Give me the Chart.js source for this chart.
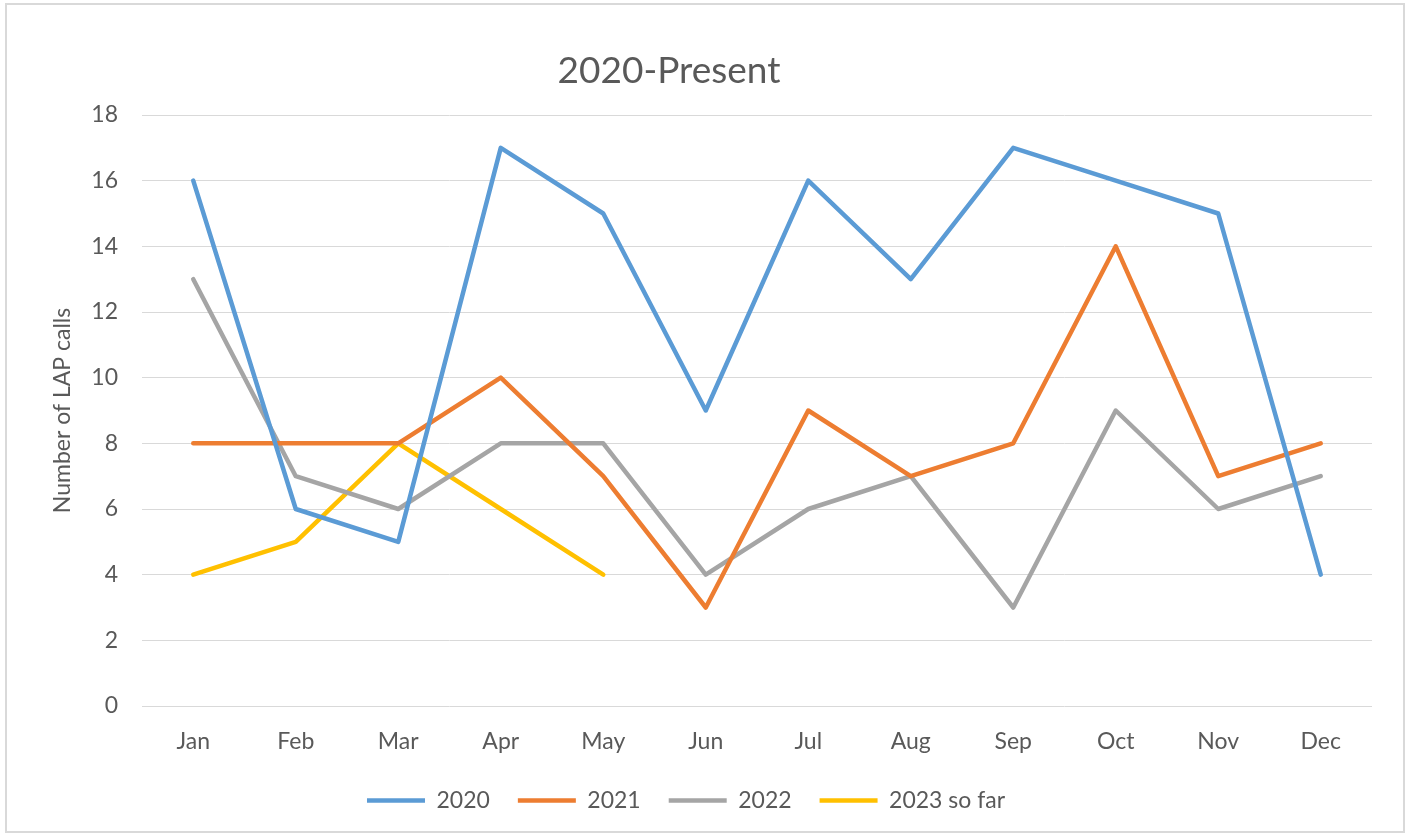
<!DOCTYPE html>
<html>
<head>
<meta charset="utf-8">
<title>2020-Present</title>
<script src="https://cdn.jsdelivr.net/npm/chart.js@4/dist/chart.umd.min.js"></script>
<style>
  html, body { margin: 0; padding: 0; background: #ffffff; }
  #wrap { position: relative; width: 1411px; height: 839px; }
  #frame {
    position: absolute; left: 5px; top: 3px; width: 1400px; height: 830px;
    border: 2px solid #d9d9d9; box-sizing: border-box; pointer-events: none;
  }
  canvas { position: absolute; left: 0; top: 0; }
</style>
</head>
<body>
<div id="wrap">
  <canvas id="chart" width="1411" height="839"></canvas>
  <div id="frame"></div>
</div>
<script>
// Monthly LAP call counts
const months = ['Jan', 'Feb', 'Mar', 'Apr', 'May', 'Jun', 'Jul', 'Aug', 'Sep', 'Oct', 'Nov', 'Dec'];
const calls2020 = [16, 6, 5, 17, 15, 9, 16, 13, 17, 16, 15, 4];
const calls2021 = [8, 8, 8, 10, 7, 3, 9, 7, 8, 14, 7, 8];
const calls2022 = [13, 7, 6, 8, 8, 4, 6, 7, 3, 9, 6, 7];
const calls2023 = [4, 5, 8, 6, 4];
const seriesNames = ['2020', '2021', '2022', '2023 so far'];
const yTicks = [0, 2, 4, 6, 8, 10, 12, 14, 16, 18];
const chartTitle = '2020-Present';
const yAxisTitle = 'Number of LAP calls';

const FONT = 'Lato, "Open Sans", sans-serif';
const TEXT = '#595959';
const colors = ['#5B9BD5', '#ED7D31', '#A5A5A5', '#FFC000'];

const makeSet = (label, data, color) => ({
  label, data,
  borderColor: color,
  backgroundColor: color,
  borderWidth: 4.5,
  borderCapStyle: 'round',
  borderJoinStyle: 'round',
  pointRadius: 0,
  pointHoverRadius: 0,
  tension: 0,
  fill: false
});

// Title drawn over the plot, slightly left of the canvas centre
const titlePlugin = {
  id: 'offsetTitle',
  afterDraw(chart) {
    const ctx = chart.ctx;
    ctx.save();
    ctx.font = '37px ' + FONT;
    ctx.fillStyle = TEXT;
    ctx.textAlign = 'center';
    ctx.textBaseline = 'middle';
    ctx.fillText(chartTitle, 669, 71);
    ctx.restore();
  }
};

new Chart(document.getElementById('chart'), {
  type: 'line',
  data: {
    labels: months,
    datasets: [
      makeSet(seriesNames[0], calls2020, colors[0]),
      makeSet(seriesNames[1], calls2021, colors[1]),
      makeSet(seriesNames[2], calls2022, colors[2]),
      makeSet(seriesNames[3], calls2023, colors[3])
    ]
  },
  options: {
    responsive: false,
    animation: false,
    events: [],
    layout: { padding: { top: 115, right: 39, left: 0, bottom: 17 } },
    plugins: {
      title: { display: false },
      tooltip: { enabled: false },
      legend: {
        position: 'bottom',
        labels: {
          font: { family: FONT, size: 23 },
          color: TEXT,
          usePointStyle: true,
          pointStyle: 'line',
          pointStyleWidth: 58,
          padding: 28
        }
      }
    },
    scales: {
      x: {
        offset: true,
        grid: { display: false, drawTicks: false },
        border: { display: false },
        ticks: { font: { family: FONT, size: 23 }, color: TEXT, padding: 22, maxRotation: 0 },
        afterFit(scale) { scale.height = 55; }
      },
      y: {
        min: 0,
        max: 18,
        afterBuildTicks(scale) { scale.ticks = yTicks.map(v => ({ value: v })); },
        grid: { color: '#d9d9d9', lineWidth: 1, drawTicks: false },
        border: { display: false },
        ticks: { font: { family: FONT, size: 23 }, color: TEXT, padding: 24 },
        title: {
          display: true,
          text: yAxisTitle,
          font: { family: FONT, size: 23 },
          color: TEXT,
          padding: { top: 49, bottom: 0 }
        },
        afterFit(scale) { scale.width = 142; }
      }
    }
  },
  plugins: [titlePlugin]
});
</script>
</body>
</html>
